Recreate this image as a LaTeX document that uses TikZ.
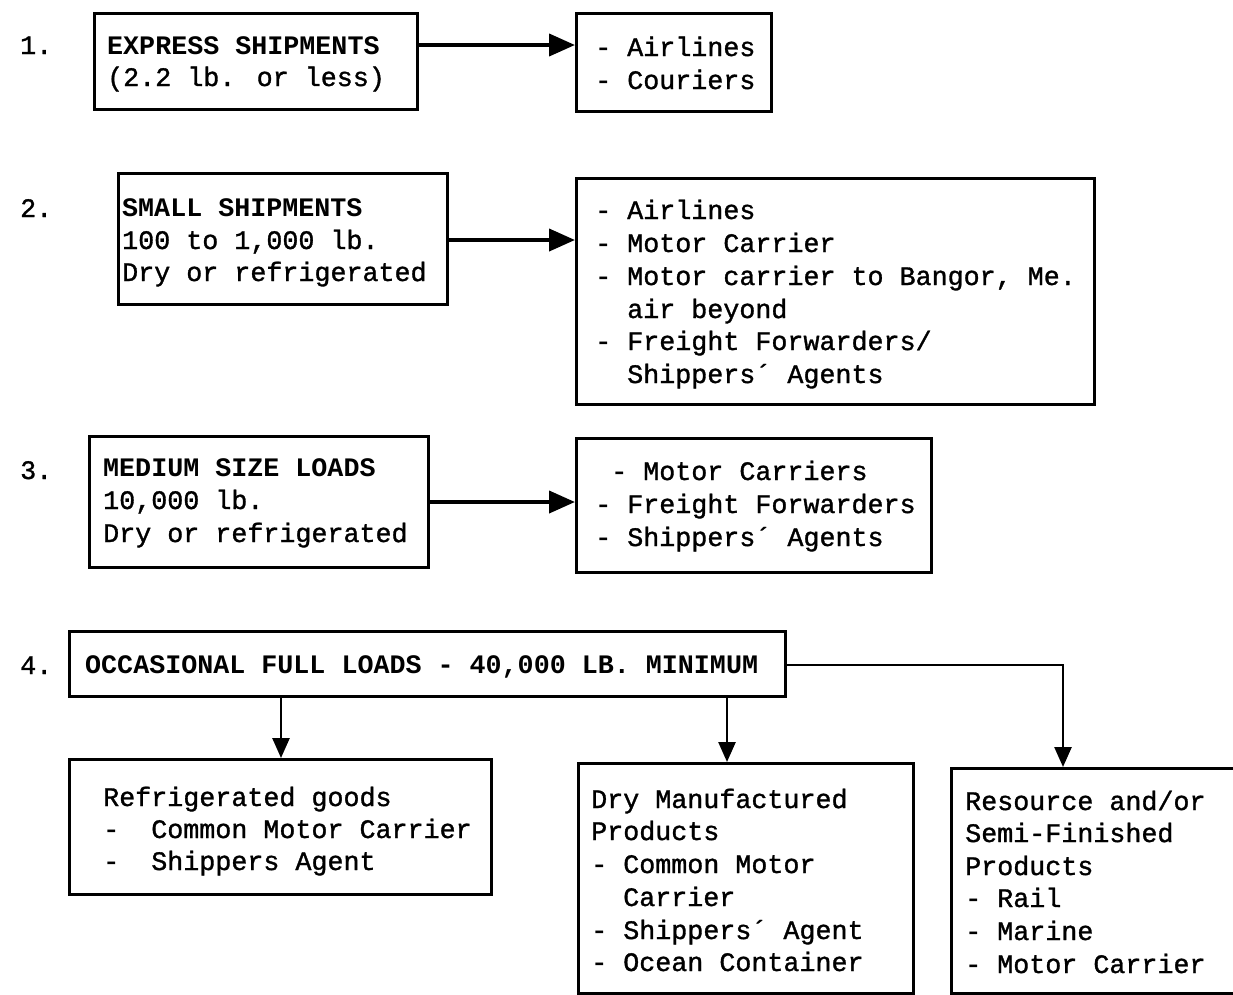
\documentclass[tikz,border=0pt]{standalone}
\usepackage{fontspec}
\usetikzlibrary{arrows.meta}
\newfontfamily\bodyfont[FakeBold=1.2]{Liberation Mono}
\newfontfamily\headfont{Liberation Mono Bold}
\begin{document}
\begin{tikzpicture}[x=1pt,y=-1pt,
  box/.style={draw,line width=2.8pt,rectangle,inner sep=0pt,anchor=north west},
  txt/.style={inner sep=0pt,anchor=base west,font=\bodyfont\fontsize{26.7}{33}\selectfont},
  head/.style={inner sep=0pt,anchor=base west,font=\headfont\fontsize{26.7}{33}\selectfont},
  harrow/.style={line width=4pt,-{Triangle[length=26pt,width=22pt]}},
  varrow/.style={line width=2.6pt,-{Triangle[length=20pt,width=17pt]}}]
\clip (0,0) rectangle (1233,994);
\fill[white] (0,0) rectangle (1233,994);

% numbers
\node[txt] (n1) at (20,54) {1.};
\node[txt] (n2) at (20,217) {2.};
\node[txt] (n3) at (20,479) {3.};
\node[txt] (n4) at (20,674) {4.};

% row 1
\node[box,minimum width=323pt,minimum height=96pt] (b1) at (93,12) {};
\node[head] (t1a) at (107,54) {EXPRESS SHIPMENTS};
\node[txt] (t1b) at (107,86) {(2.2 lb. or less)};
\node[box,minimum width=195pt,minimum height=98pt] (r1) at (575,12) {};
\node[txt] (r1a) at (595,56) {- Airlines};
\node[txt] (r1b) at (595,89) {- Couriers};
\coordinate (y1) at (0,45);
\draw[harrow] (b1.east |- y1) -- (r1.west |- y1);

% row 2
\node[box,minimum width=329pt,minimum height=131pt] (b2) at (117,172) {};
\node[head] (t2a) at (122,216) {SMALL SHIPMENTS};
\node[txt] (t2b) at (122,249) {100 to 1,000 lb.};
\node[txt] (t2c) at (122,281) {Dry or refrigerated};
\node[box,minimum width=518pt,minimum height=226pt] (r2) at (575,177) {};
\node[txt] (r2a) at (595,219) {- Airlines};
\node[txt] (r2b) at (595,252) {- Motor Carrier};
\node[txt] (r2c) at (595,285) {- Motor carrier to Bangor, Me.};
\node[txt] (r2d) at (627,318) {air beyond};
\node[txt] (r2e) at (595,350) {- Freight Forwarders/};
\node[txt] (r2f) at (627,383) {Shippers´ Agents};
\coordinate (y2) at (0,240);
\draw[harrow] (b2.east |- y2) -- (r2.west |- y2);

% row 3
\node[box,minimum width=339pt,minimum height=131pt] (b3) at (88,435) {};
\node[head] (t3a) at (103,476) {MEDIUM SIZE LOADS};
\node[txt] (t3b) at (103,509) {10,000 lb.};
\node[txt] (t3c) at (103,542) {Dry or refrigerated};
\node[box,minimum width=355pt,minimum height=134pt] (r3) at (575,437) {};
\node[txt] (r3a) at (611,480) {- Motor Carriers};
\node[txt] (r3b) at (595,513) {- Freight Forwarders};
\node[txt] (r3c) at (595,546) {- Shippers´ Agents};
\coordinate (y3) at (0,502);
\draw[harrow] (b3.east |- y3) -- (r3.west |- y3);

% row 4
\node[box,minimum width=716pt,minimum height=65pt] (b4) at (68,630) {};
\node[head] (t4) at (85,673) {OCCASIONAL FULL LOADS - 40,000 LB. MINIMUM};

\node[box,minimum width=422pt,minimum height=135pt] (ba) at (68,758) {};
\node[txt] (ta1) at (103,806) {Refrigerated goods};
\node[txt] (ta2) at (103,838) {-\ \ Common Motor Carrier};
\node[txt] (ta3) at (103,870) {-\ \ Shippers Agent};

\node[box,minimum width=335pt,minimum height=230pt] (bb) at (577,762) {};
\node[txt] (tb1) at (591,808) {Dry Manufactured};
\node[txt] (tb2) at (591,840) {Products};
\node[txt] (tb3) at (591,873) {- Common Motor};
\node[txt] (tb4) at (623,906) {Carrier};
\node[txt] (tb5) at (591,939) {- Shippers´ Agent};
\node[txt] (tb6) at (591,971) {- Ocean Container};

\node[box,minimum width=320pt,minimum height=225pt] (bc) at (950,767) {};
\node[txt] (tc1) at (965,810) {Resource and/or};
\node[txt] (tc2) at (965,842) {Semi-Finished};
\node[txt] (tc3) at (965,875) {Products};
\node[txt] (tc4) at (965,907) {- Rail};
\node[txt] (tc5) at (965,940) {- Marine};
\node[txt] (tc6) at (965,973) {- Motor Carrier};

\coordinate (xa) at (281,0);
\coordinate (xb) at (727,0);
\coordinate (xc) at (1063,0);
\coordinate (y4) at (0,665);
\draw[varrow] (b4.south -| xa) -- (ba.north -| xa);
\draw[varrow] (b4.south -| xb) -- (bb.north -| xb);
\draw[varrow] (b4.east |- y4) -| (bc.north -| xc);
\end{tikzpicture}
\end{document}
